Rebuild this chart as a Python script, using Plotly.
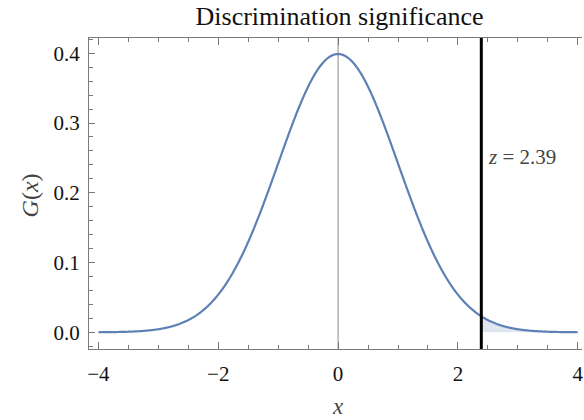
import numpy as np
import plotly.graph_objects as go

# Standard normal density G(x) on the plotted domain, and the discrimination threshold
x_min, x_max = -4.0, 4.0
mu, sigma = 0.0, 1.0
z_value = 2.39

x_vals = np.linspace(x_min, x_max, 801)
g_vals = np.exp(-0.5 * ((x_vals - mu) / sigma) ** 2) / (sigma * np.sqrt(2 * np.pi))

tail = x_vals >= z_value
x_tail = np.concatenate([[z_value], x_vals[tail]])
g_tail = np.concatenate([[np.exp(-0.5 * z_value ** 2) / np.sqrt(2 * np.pi)], g_vals[tail]])

x_ticks = [-4, -2, 0, 2, 4]
y_ticks = [0.0, 0.1, 0.2, 0.3, 0.4]
y_tick_text = ["0.0", "0.1", "0.2", "0.3", "0.4"]

curve_color = "#5E81B5"
frame_color = "#7a7a7a"
serif = "Liberation Serif, Times New Roman, serif"

fig = go.Figure()

# shaded tail beyond z
fig.add_trace(go.Scatter(
    x=x_tail, y=np.zeros_like(x_tail), mode="lines",
    line=dict(width=0), hoverinfo="skip", showlegend=False))
fig.add_trace(go.Scatter(
    x=x_tail, y=g_tail, mode="lines", fill="tonexty",
    fillcolor="rgba(94,129,181,0.2)", line=dict(width=0),
    hoverinfo="skip", showlegend=False))

# density curve
fig.add_trace(go.Scatter(
    x=x_vals, y=g_vals, mode="lines",
    line=dict(color=curve_color, width=2.2, simplify=False), showlegend=False))

# vertical axis at x = 0 and threshold line at z
fig.add_shape(type="line", xref="x", yref="paper", x0=0, x1=0, y0=0, y1=1,
              line=dict(color="#8a8a8a", width=1), layer="below")
fig.add_shape(type="line", xref="x", yref="paper", x0=z_value, x1=z_value, y0=0, y1=1,
              line=dict(color="black", width=3))

fig.add_annotation(x=z_value, y=0.2513, xref="x", yref="y", xanchor="left",
                   xshift=5, showarrow=False,
                   text="<i>z</i> = " + f"{z_value:.2f}",
                   font=dict(family=serif, size=21, color="#444444"))

# axis labels
fig.add_annotation(x=-0.119, y=0.495, xref="paper", yref="paper", showarrow=False,
                   xanchor="center", yanchor="middle", textangle=-90,
                   text="<i>G</i>(<i>x</i>)",
                   font=dict(family=serif, size=24, color="#444444"))
fig.add_annotation(x=0, y=0, xref="x", yref="paper", showarrow=False,
                   xanchor="center", yanchor="middle", yshift=-57,
                   text="<i>x</i>",
                   font=dict(family=serif, size=23, color="#444444"))

axis_common = dict(
    showgrid=False, zeroline=False, showline=True, linecolor=frame_color,
    linewidth=1, ticks="inside", tickcolor=frame_color, tickwidth=1,
    tickfont=dict(family=serif, size=21, color="#111111"),
    ticklabeloverflow="allow",
)

fig.update_xaxes(
    range=[-4.156, 4.07], tickvals=x_ticks, ticklen=7, mirror="ticks",
    minor=dict(dtick=0.5, tick0=0, ticks="inside", ticklen=4,
               tickcolor=frame_color, showgrid=False),
    ticklabelstandoff=6,
    **axis_common)
fig.update_yaxes(
    range=[-0.0239, 0.4219], tickvals=y_ticks, ticktext=y_tick_text, ticklen=6,
    mirror=False,
    minor=dict(dtick=0.02, tick0=0, ticks="inside", ticklen=4,
               tickcolor=frame_color, showgrid=False),
    ticklabelstandoff=4,
    **axis_common)

fig.update_layout(
    width=584, height=420,
    margin=dict(l=89, r=0, t=38, b=71),
    paper_bgcolor="white", plot_bgcolor="white",
    title=dict(text="Discrimination significance", x=0.5815, xanchor="center",
               y=0.962, yanchor="middle",
               font=dict(family=serif, size=26, color="#111111")),
)

fig.write_html("out.html")
